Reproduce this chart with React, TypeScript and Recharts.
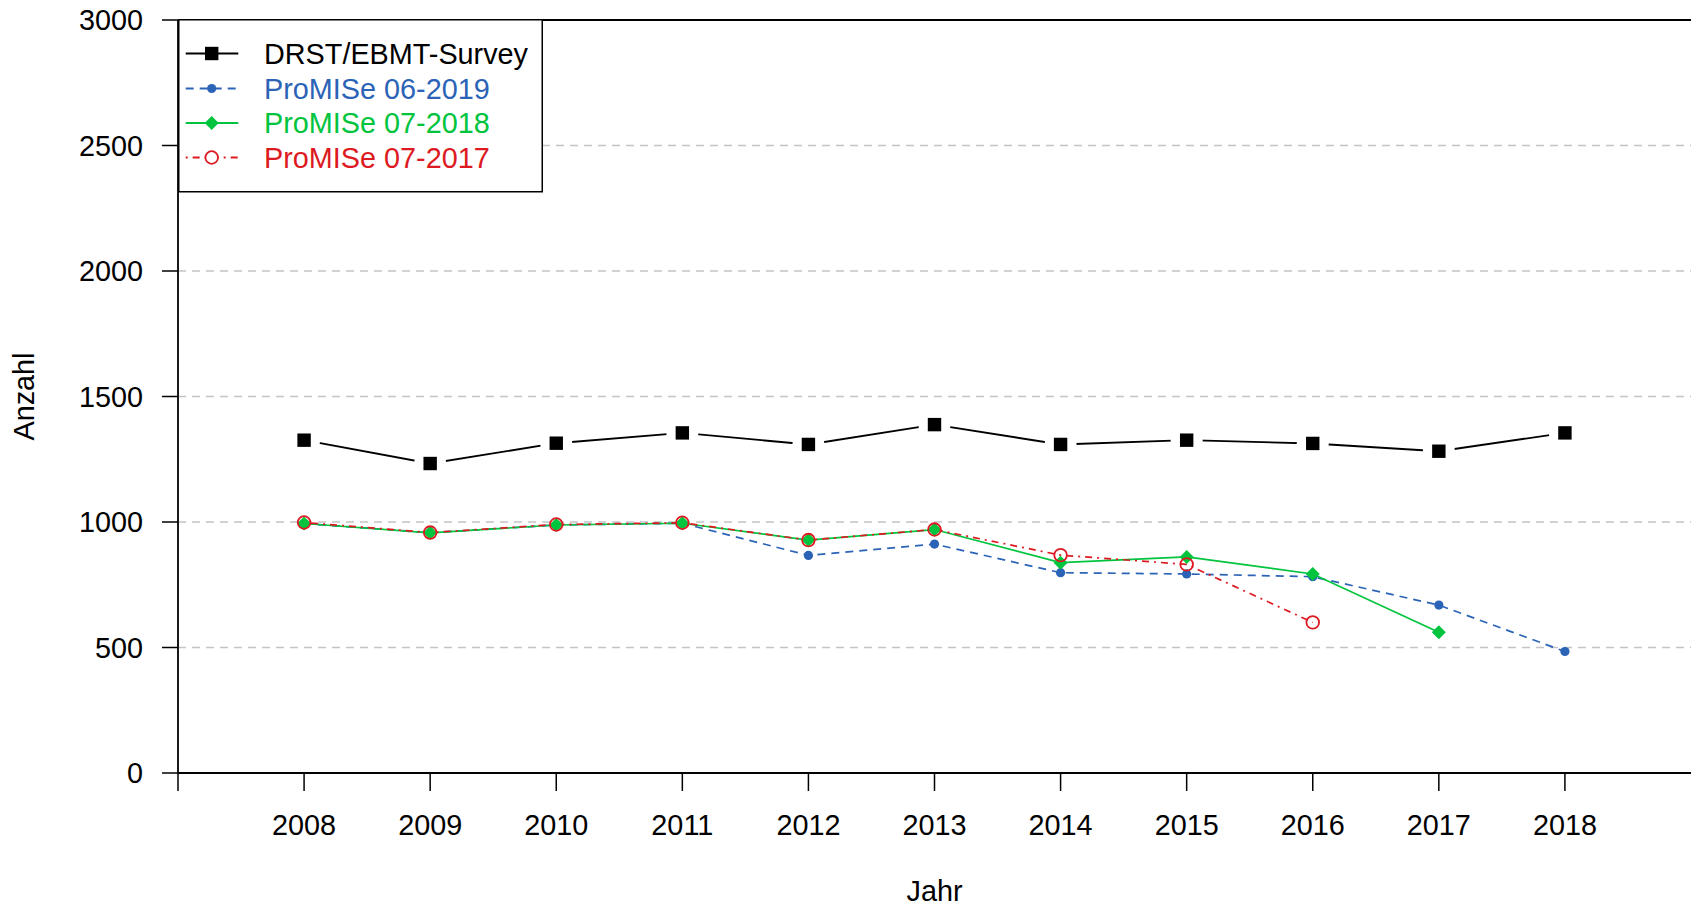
import React from "react";
import { LineChart, Line, XAxis, YAxis, CartesianGrid, ReferenceLine, Legend } from "recharts";

const years = [2008, 2009, 2010, 2011, 2012, 2013, 2014, 2015, 2016, 2017, 2018];
const drstSurvey = [1326, 1233, 1314, 1355, 1309, 1388, 1309, 1326, 1313, 1282, 1355];
const promise0619 = [994, 957, 988, 995, 867, 912, 798, 793, 782, 669, 484];
const promise0718: (number | null)[] = [994, 957, 988, 995, 928, 970, 838, 861, 793, 561, null];
const promise0717: (number | null)[] = [998, 958, 990, 997, 928, 970, 868, 831, 600, null, null];
const xTicks = [2007, 2008, 2009, 2010, 2011, 2012, 2013, 2014, 2015, 2016, 2017, 2018];
const yTicks = [0, 500, 1000, 1500, 2000, 2500, 3000];

const data = years.map((year, i) => ({
  year,
  drst: drstSurvey[i],
  p19: promise0619[i],
  p18: promise0718[i],
  p17: promise0717[i],
}));

const FONT = "'Liberation Sans', Arial, Helvetica, sans-serif";
const FS = 28.8;
const BLACK = "#000000";
const BLUE = "#2B63B7";
const GREEN = "#00C43E";
const RED = "#DD1A22";
const BLUE_DASH = "8 6";
const RED_DASH = "2 5 7 5";

const SquareDot = (props: any) => {
  const { cx, cy } = props;
  if (cx == null || cy == null) return null;
  return (
    <g>
      <circle cx={cx} cy={cy} r={16} fill="#ffffff" />
      <rect x={cx - 6.7} y={cy - 6.7} width={13.4} height={13.4} fill={BLACK} />
    </g>
  );
};

const BlueDot = (props: any) => {
  const { cx, cy, value } = props;
  if (cx == null || cy == null || value == null) return null;
  return <circle cx={cx} cy={cy} r={4.6} fill={BLUE} />;
};

const Diamond = (props: any) => {
  const { cx, cy, value } = props;
  if (cx == null || cy == null || value == null) return null;
  const d = 7;
  return <polygon points={`${cx},${cy - d} ${cx + d},${cy} ${cx},${cy + d} ${cx - d},${cy}`} fill={GREEN} />;
};

const OpenCircle = (props: any) => {
  const { cx, cy, value } = props;
  if (cx == null || cy == null || value == null) return null;
  return <circle cx={cx} cy={cy} r={6.3} fill="none" stroke={RED} strokeWidth={1.8} />;
};

const legendItems = [
  { label: "DRST/EBMT-Survey", color: BLACK, dash: undefined as string | undefined, marker: "square" },
  { label: "ProMISe 06-2019", color: BLUE, dash: BLUE_DASH, marker: "dot" },
  { label: "ProMISe 07-2018", color: GREEN, dash: undefined, marker: "diamond" },
  { label: "ProMISe 07-2017", color: RED, dash: RED_DASH, marker: "open" },
];

const LegendBox = () => {
  const rows = [34.5, 69.5, 104, 138.5];
  return (
    <svg width={365} height={174} style={{ display: "block" }}>
      <rect x={0.75} y={0.75} width={363.5} height={172} fill="#ffffff" stroke={BLACK} strokeWidth={1.5} />
      {legendItems.map((it, i) => {
        const y = rows[i];
        const mx = 33.7;
        return (
          <g key={it.label}>
            <line x1={7.7} x2={60.3} y1={y} y2={y} stroke={it.color} strokeWidth={1.8} strokeDasharray={it.dash} />
            {it.marker === "square" && <rect x={mx - 6.7} y={y - 6.7} width={13.4} height={13.4} fill={BLACK} />}
            {it.marker === "dot" && <circle cx={mx} cy={y} r={4.6} fill={BLUE} />}
            {it.marker === "diamond" && (
              <polygon points={`${mx},${y - 7} ${mx + 7},${y} ${mx},${y + 7} ${mx - 7},${y}`} fill={GREEN} />
            )}
            {it.marker === "open" && (
              <circle cx={mx} cy={y} r={6.3} fill="#ffffff" stroke={RED} strokeWidth={1.8} />
            )}
            <text x={86} y={y} dy="0.36em" fontFamily={FONT} fontSize={FS} fill={it.color}>
              {it.label}
            </text>
          </g>
        );
      })}
    </svg>
  );
};

export default function App() {
  return (
    <div style={{ position: "absolute", left: 0, top: 0, width: 1691, height: 908, background: "#ffffff" }}>
      <LineChart width={1691} height={908} data={data} margin={{ top: 20, right: 0, bottom: 0, left: 0 }}>
        <CartesianGrid vertical={false} stroke="#C4C4C4" strokeWidth={1.6} strokeDasharray="8 6" />
        <ReferenceLine y={3000} stroke={BLACK} strokeWidth={1.8} />
        <XAxis
          type="number"
          dataKey="year"
          domain={[2007, 2019]}
          ticks={xTicks}
          allowDataOverflow
          height={135}
          tickSize={18}
          tickMargin={24}
          tickFormatter={(v: number) => (v === 2007 ? "" : String(v))}
          tick={{ fill: BLACK, fontSize: FS, fontFamily: FONT }}
          axisLine={{ stroke: BLACK, strokeWidth: 1.8 }}
          tickLine={{ stroke: BLACK, strokeWidth: 1.5 }}
          label={{
            content: (p: any) => {
              const vb = p.viewBox || {};
              return (
                <text x={vb.x + vb.width / 2} y={vb.y + 118} dy="0.36em" textAnchor="middle" fontFamily={FONT} fontSize={FS} fill={BLACK}>
                  Jahr
                </text>
              );
            },
          }}
        />
        <YAxis
          type="number"
          domain={[0, 3000]}
          ticks={yTicks}
          width={178}
          tickSize={16}
          tickMargin={19}
          tick={{ fill: BLACK, fontSize: FS, fontFamily: FONT }}
          axisLine={{ stroke: BLACK, strokeWidth: 1.8 }}
          tickLine={{ stroke: BLACK, strokeWidth: 1.5 }}
          label={{
            content: (p: any) => {
              const vb = p.viewBox || {};
              const cx = vb.x + 24;
              const cy = vb.y + vb.height / 2;
              return (
                <text x={cx} y={cy} dy="0.36em" textAnchor="middle" transform={`rotate(-90 ${cx} ${cy})`} fontFamily={FONT} fontSize={FS} fill={BLACK}>
                  Anzahl
                </text>
              );
            },
          }}
        />
        <Line dataKey="drst" stroke={BLACK} strokeWidth={1.9} dot={<SquareDot />} activeDot={false} isAnimationActive={false} />
        <Line dataKey="p19" stroke={BLUE} strokeWidth={1.7} strokeDasharray={BLUE_DASH} dot={<BlueDot />} activeDot={false} isAnimationActive={false} />
        <Line dataKey="p18" stroke={GREEN} strokeWidth={1.7} dot={<Diamond />} activeDot={false} isAnimationActive={false} />
        <Line dataKey="p17" stroke={RED} strokeWidth={1.7} strokeDasharray={RED_DASH} dot={<OpenCircle />} activeDot={false} isAnimationActive={false} />
        <Legend
          layout="vertical"
          align="center"
          verticalAlign="middle"
          wrapperStyle={{ left: 178, top: 19, width: 365, height: 174 }}
          content={() => <LegendBox />}
        />
      </LineChart>
    </div>
  );
}
